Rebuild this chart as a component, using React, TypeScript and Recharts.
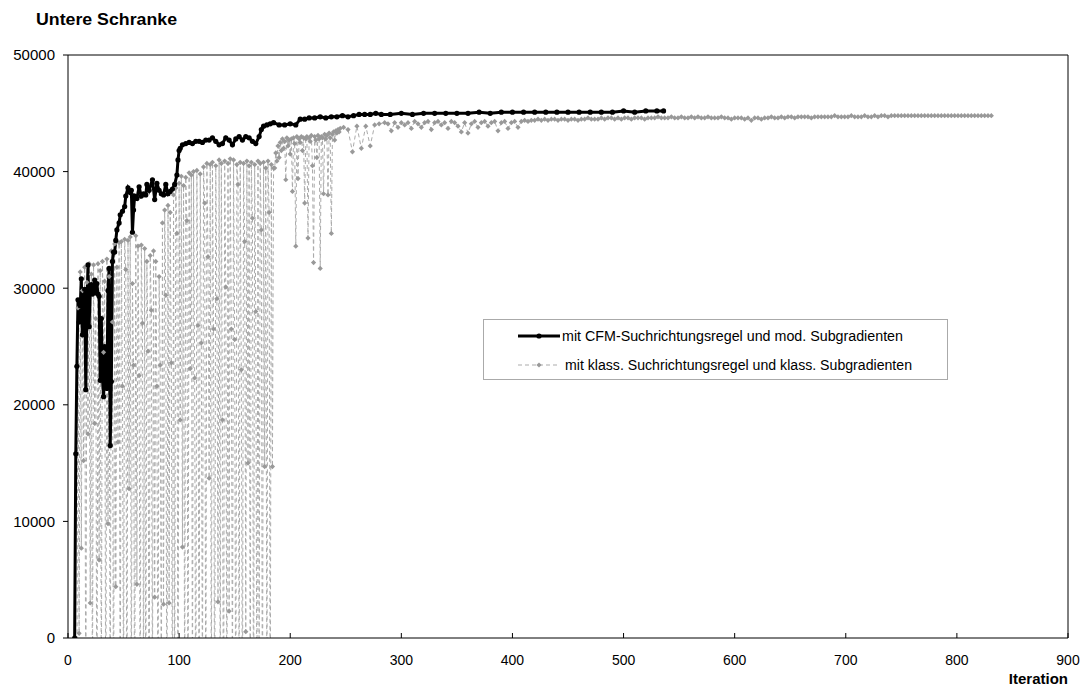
import React from 'react';
import { LineChart, Line, XAxis, YAxis, ReferenceLine } from 'recharts';

const xTicks = [0, 100, 200, 300, 400, 500, 600, 700, 800, 900];
const yTicks = [0, 10000, 20000, 30000, 40000, 50000];

const yTitle = 'Untere Schranke';
const xTitle = 'Iteration';
const cfmLabel = 'mit CFM-Suchrichtungsregel und mod. Subgradienten';
const klassLabel = 'mit klass. Suchrichtungsregel und klass. Subgradienten';

// CFM series: [iteration, lower bound]
const cfmPoints: [number, number][] = [
  [6, 0], [7, 15800], [8, 23300], [9, 29000], [10, 27100], [11, 28500], [12, 30800], [13, 26000],
  [14, 28700], [15, 29900], [16, 21300], [17, 28400], [18, 32000], [19, 26700], [20, 29800],
  [21, 30300], [22, 29500], [23, 30000], [24, 30700], [25, 29600], [26, 30400], [27, 29500],
  [28, 29300], [29, 22100], [30, 27400], [31, 22200], [32, 20700], [33, 25000], [34, 22700],
  [35, 21400], [36, 29800], [37, 31700], [38, 16500], [39, 22000], [40, 32300], [41, 33100],
  [42, 33100], [43, 34100], [44, 35000], [46, 35600], [47, 36300], [49, 36600], [51, 37000],
  [52, 37900], [54, 38600], [56, 38200], [57, 38400], [58, 34800], [59, 36700], [60, 37900],
  [62, 37700], [64, 38700], [66, 37900], [68, 38100], [70, 38000], [71, 38900], [73, 38400],
  [76, 39300], [78, 37600], [80, 39000], [82, 38400], [84, 38100], [86, 38000], [88, 38900],
  [90, 38100], [92, 38300], [94, 38500], [96, 38900], [98, 39700], [99, 41000], [100, 41800],
  [101, 42000], [103, 42300], [106, 42400], [109, 42500], [112, 42400], [115, 42600], [118, 42600],
  [121, 42500], [124, 42700], [127, 42700], [130, 42900], [133, 42600], [136, 42300], [139, 42400],
  [142, 42900], [145, 42700], [148, 42300], [151, 42800], [154, 43000], [157, 42700], [160, 43000],
  [163, 42900], [166, 42600], [169, 42400], [172, 43000], [174, 43600], [176, 43900], [179, 44000],
  [182, 44100], [185, 44200], [190, 44000], [195, 44000], [200, 44100], [205, 44000], [209, 44500],
  [213, 44500], [217, 44600], [222, 44600], [227, 44700], [232, 44600], [237, 44700], [242, 44700],
  [247, 44800], [252, 44700], [257, 44800], [262, 44900], [267, 44900], [272, 44900], [277, 45000],
  [282, 44900], [290, 44900], [300, 45000], [310, 44900], [320, 45000], [330, 45000], [340, 45000],
  [350, 45000], [360, 45000], [370, 45100], [380, 45000], [390, 45100], [400, 45100], [410, 45100],
  [420, 45100], [430, 45100], [440, 45100], [450, 45100], [460, 45100], [470, 45100], [480, 45100],
  [490, 45100], [500, 45200], [510, 45100], [520, 45200], [530, 45200], [536, 45200],
];

// klassische Variante, iterations 8..185, one value per iteration (negative bounds fall below the axis)
const klassOscStart = 8;
const klassOsc = [
  -5000, 28300, 400, 31400, 7700, 29800, 15200, 31800, -9000, 30500,
  17500, 32100, 3000, 31200, -7000, 32000, 18400, 27400, -12000, 32100,
  6700, 31500, -6000, 32300, 24500, 30600, -10000, 32500, 9800, 31000,
  -8000, 33200, 27100, -11000, 33800, 4400, 31800, 16800, 33900, -9000,
  34000, 21600, -6000, 34200, 31600, -13000, 34100, 12800, 34400, -7000,
  30400, 23400, -10000, 34500, 4600, 33600, 22500, -8000, 33700, 27000,
  -5000, 33400, -9000, 32300, 24600, -12000, 32800, 28100, -6000, 33200,
  3500, 32300, 21600, -10000, 31000, 23400, -7000, 35600, 2900, 36700,
  29400, -11000, 37100, 3000, 36500, 23600, -9000, 38000, -6000, 38600,
  34700, -13000, 39000, 18700, 39600, 7800, 38800, -8000, 39500, 35800,
  -10000, 39900, 23100, 39700, -7000, 40000, 22300, -12000, 40100, 26800,
  -9000, 39800, 25300, -6000, 40400, 37300, -11000, 40700, 32700, 13700,
  40600, -8000, 40800, 26500, -10000, 40500, 29100, 3100, 41000, -7000,
  40700, 18700, -12000, 40900, 30100, -9000, 40700, 2300, 41100, 26500,
  -6000, 41000, 25600, -11000, 40600, 38900, -8000, 40800, 23000, -10000,
  40700, 34000, 540, 40900, 15000, 40500, -7000, 40800, 36000, -12000,
  40600, 28000, -9000, 40900, -6000, 40700, 35000, -11000, 40800, 14700,
  40300, -8000, 40900, 36500, -10000, 40600, 14700, 40300,
];

// iterations 186..245
const klassMidStart = 186;
const klassMid = [
  40300, 41600, 40900, 42200, 41200, 42500, 41800, 42800, 42000, 42600,
  39300, 42900, 42200, 42700, 41500, 42800, 38300, 42900, 42400, 33600,
  43000, 39400, 42800, 42500, 43000, 41800, 42900, 37300, 42800, 43000,
  34300, 42900, 42600, 43100, 40500, 32200, 43000, 42700, 41200, 43100,
  42800, 31700, 43000, 42900, 38100, 43200, 42800, 43100, 38000, 43300,
  42900, 34700, 43200, 43400, 42700, 43500, 43300, 43600, 43400, 43700,
];

const klassLateIter = [248, 252, 256, 260, 264, 268, 272, 276, 280];
const klassLate = [43800, 43600, 41700, 43900, 42000, 43900, 42200, 44000, 44100];

// iterations 285..831, every 3rd
const klassTailStart = 285;
const klassTailStep = 3;
const klassTail = [
  44200, 44100, 43500, 44200, 43800, 44200, 44000, 44200, 43700, 44300,
  44100, 43800, 44200, 44300, 43600, 44200, 44300, 44000, 44200, 43700,
  44300, 44200, 43900, 43400, 44200, 43300, 44100, 44300, 43800, 44200,
  44300, 43900, 44200, 44300, 43500, 44200, 44300, 43700, 44200, 44300,
  43800, 44300, 44400, 44300, 44400, 44400,
  44500, 44400, 44500, 44400, 44500, 44500, 44400, 44500, 44500, 44400,
  44500, 44500, 44400, 44500, 44500, 44600, 44500, 44500, 44500, 44600,
  44500, 44600, 44600, 44500, 44600, 44500, 44600, 44600, 44500, 44600,
  44600, 44600, 44500, 44600, 44600, 44600, 44700, 44600, 44600, 44600,
  44700, 44600, 44600, 44700, 44600, 44600, 44700, 44600, 44700, 44600,
  44600, 44700, 44600, 44600, 44600, 44700, 44600, 44600, 44500, 44600,
  44600, 44600, 44500, 44600, 44400, 44600, 44600, 44500, 44600, 44600,
  44700, 44600, 44600, 44700, 44600, 44700, 44700, 44600, 44700, 44700,
  44700, 44700, 44600, 44700, 44700, 44700, 44700, 44700, 44700, 44800,
  44700, 44700, 44700, 44700, 44800, 44700, 44700, 44700, 44800, 44700,
  44700, 44800, 44700, 44800, 44800, 44700, 44800, 44800, 44800, 44800,
  44800, 44800, 44800, 44800, 44800, 44800, 44800, 44800, 44800, 44800,
  44800, 44800, 44800, 44800, 44800, 44800, 44800, 44800, 44800, 44800,
  44800, 44800, 44800, 44800, 44800, 44800, 44800,
];

const cfmData = cfmPoints.map(([x, y]) => ({ x, y }));
const klassData = [
  ...klassOsc.map((y, i) => ({ x: klassOscStart + i, y })),
  ...klassMid.map((y, i) => ({ x: klassMidStart + i, y })),
  ...klassLate.map((y, i) => ({ x: klassLateIter[i], y })),
  ...klassTail.map((y, i) => ({ x: klassTailStart + i * klassTailStep, y })),
];

const FONT = '"Liberation Sans", Arial, sans-serif';
const GREY_LINE = '#ababab';
const GREY_DOT = '#999999';

const Diamond = ({ cx, cy, size = 2.6, fill = GREY_DOT }: any) => {
  if (cx == null || cy == null) return <g />;
  return (
    <path
      d={`M${cx},${cy - size}L${cx + size},${cy}L${cx},${cy + size}L${cx - size},${cy}Z`}
      fill={fill}
    />
  );
};

const XTick = ({ x, y, payload }: any) => (
  <g>
    <line x1={x} y1={y} x2={x} y2={y - 5} stroke="#000" />
    <text x={x} y={y + 22} dy="0.355em" textAnchor="middle" fontSize={14} fill="#000" fontFamily={FONT}>
      {payload.value}
    </text>
  </g>
);

export default function App() {
  return (
    <div style={{ position: 'absolute', left: 0, top: 0, width: 1089, height: 686, background: '#fff' }}>
      <LineChart
        width={1089}
        height={686}
        margin={{ top: 55, right: 21, bottom: 0, left: 0 }}
        style={{ fontFamily: FONT }}
      >
        <XAxis
          type="number"
          dataKey="x"
          domain={[0, 900]}
          ticks={xTicks}
          interval={0}
          height={48}
          tickSize={0}
          tickMargin={0}
          tickLine={false}
          axisLine={{ stroke: '#000' }}
          tick={<XTick />}
        />
        <YAxis
          type="number"
          domain={[0, 50000]}
          allowDataOverflow
          ticks={yTicks}
          interval={0}
          width={68}
          tickSize={5}
          tickMargin={8}
          axisLine={{ stroke: '#000' }}
          tickLine={{ stroke: '#000' }}
          tick={{ fontSize: 15, fill: '#000', fontFamily: FONT }}
        />
        <ReferenceLine y={50000} stroke="#000" />
        <ReferenceLine x={900} stroke="#000" />
        <Line
          data={klassData}
          dataKey="y"
          type="linear"
          stroke={GREY_LINE}
          strokeWidth={1}
          strokeDasharray="4 3"
          dot={(p: any) => <Diamond key={`k${p.index}`} cx={p.cx} cy={p.cy} />}
          activeDot={false}
          isAnimationActive={false}
        />
        <Line
          data={cfmData}
          dataKey="y"
          type="linear"
          stroke="#000"
          strokeWidth={3}
          dot={{ r: 2.6, fill: '#000', stroke: 'none' }}
          activeDot={false}
          isAnimationActive={false}
        />
      </LineChart>

      <svg
        width={1089}
        height={686}
        style={{ position: 'absolute', left: 0, top: 0, pointerEvents: 'none', fontFamily: FONT }}
      >
        <text x={36} y={25} fontSize={16} fontWeight="bold" textLength={141} lengthAdjust="spacingAndGlyphs">
          {yTitle}
        </text>
        <text x={1068} y={684} fontSize={15} fontWeight="bold" textAnchor="end">
          {xTitle}
        </text>

        <rect x={483.5} y={319.5} width={464} height={60} fill="#fff" stroke="#aaa" />
        <line x1={518} y1={336} x2={560} y2={336} stroke="#000" strokeWidth={3} />
        <circle cx={539} cy={336} r={2.6} fill="#000" />
        <text x={562} y={336} dy="0.355em" fontSize={14} textLength={341} lengthAdjust="spacingAndGlyphs">
          {cfmLabel}
        </text>
        <line x1={518} y1={365} x2={560} y2={365} stroke={GREY_LINE} strokeWidth={1} strokeDasharray="4 3" />
        <Diamond cx={539} cy={365} />
        <text x={565} y={365} dy="0.355em" fontSize={14} textLength={347} lengthAdjust="spacingAndGlyphs">
          {klassLabel}
        </text>
      </svg>
    </div>
  );
}
